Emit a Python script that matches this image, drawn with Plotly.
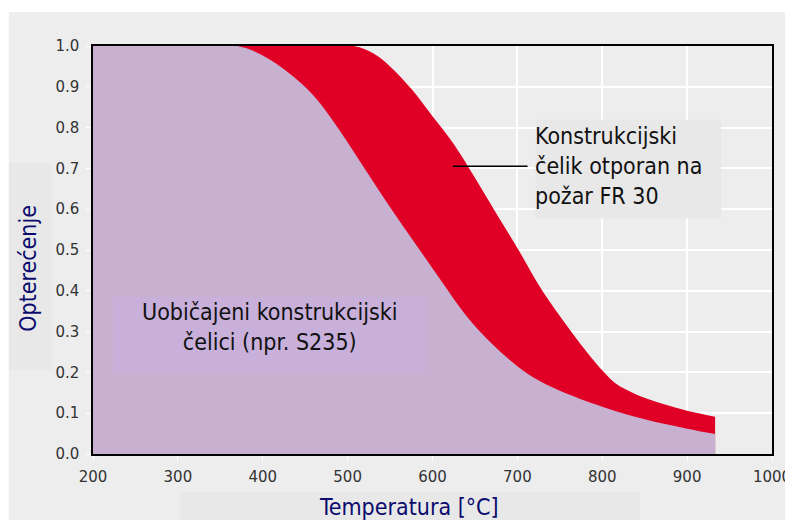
import plotly.graph_objects as go

# temperature (°C) and load ratio
temp_s235 = [200, 300, 370, 400, 430, 460, 490, 520, 550, 580, 610, 640, 670, 700, 720, 750, 800, 850, 900, 933]
load_s235 = [1.0, 1.0, 1.0, 0.977, 0.935, 0.878, 0.795, 0.70, 0.605, 0.515, 0.425, 0.338, 0.27, 0.215, 0.186, 0.155, 0.116, 0.085, 0.062, 0.049]

temp_fr30 = [200, 400, 507, 530, 550, 575, 600, 625, 650, 675, 700, 725, 750, 775, 800, 815, 840, 870, 900, 933]
load_fr30 = [1.0, 1.0, 1.0, 0.982, 0.95, 0.895, 0.828, 0.76, 0.677, 0.59, 0.505, 0.415, 0.338, 0.268, 0.205, 0.174, 0.146, 0.124, 0.106, 0.0915]

x_ticks = [200, 300, 400, 500, 600, 700, 800, 900, 1000]
y_ticks = [0.0, 0.1, 0.2, 0.3, 0.4, 0.5, 0.6, 0.7, 0.8, 0.9, 1.0]

FONT = 'DejaVu Sans Condensed, DejaVu Sans, sans-serif'
TICK_FONT = 'DejaVu Sans, sans-serif'
NAVY = '#0b0b6e'

fig = go.Figure()
fig.add_trace(go.Scatter(
    x=temp_fr30, y=load_fr30,
    mode='lines', line=dict(width=0, shape='spline', smoothing=1),
    fill='tozeroy', fillcolor='#e00025',
    hoverinfo='skip', showlegend=False
))
fig.add_trace(go.Scatter(
    x=temp_s235, y=load_s235,
    mode='lines', line=dict(width=0, shape='spline', smoothing=1),
    fill='tozeroy', fillcolor='#c8b0d0',
    hoverinfo='skip', showlegend=False
))

# grey panel behind everything, and boxes behind the axis titles
fig.add_shape(type='rect', xref='paper', yref='paper', x0=-0.124, x1=1.04, y0=-0.17, y1=1.083,
              fillcolor='#ededed', line_width=0, layer='below')
fig.add_shape(type='rect', xref='paper', yref='paper', x0=-0.124, x1=-0.061, y0=0.206, y1=0.713,
              fillcolor='#e8e8e8', line_width=0, layer='below')
fig.add_shape(type='rect', xref='paper', yref='paper', x0=0.128, x1=0.806, y0=-0.17, y1=-0.093,
              fillcolor='#e8e8e8', line_width=0, layer='below')

# label boxes and the pointer line
fig.add_shape(type='rect', x0=721.5, x1=940, y0=0.578, y1=0.819,
              fillcolor='#e8e8e8', line_width=0, layer='above')
fig.add_shape(type='rect', x0=223.6, x1=591.7, y0=0.201, y1=0.385,
              fillcolor='#c8b0da', line_width=0, layer='above')
fig.add_shape(type='line', x0=624, x1=712, y0=0.705, y1=0.705,
              line=dict(color='black', width=1.5), layer='above')

fig.add_annotation(x=718, y=0.705, xanchor='left', yanchor='middle', align='left',
                   text='Konstrukcijski<br>čelik otporan na<br>požar FR 30',
                   showarrow=False, font=dict(family=FONT, size=23, color='#111111'))
fig.add_annotation(x=408, y=0.312, xanchor='center', yanchor='middle', align='center',
                   text='Uobičajeni konstrukcijski<br>čelici (npr. S235)',
                   showarrow=False, font=dict(family=FONT, size=23, color='#111111'))

# axis titles
fig.add_annotation(xref='paper', yref='paper', x=-0.096, y=0.456, textangle=-90,
                   xanchor='center', yanchor='middle',
                   text='Opterećenje', showarrow=False,
                   font=dict(family=FONT, size=23, color=NAVY))
fig.add_annotation(xref='paper', yref='paper', x=0.465, y=-0.13,
                   xanchor='center', yanchor='middle',
                   text='Temperatura [°C]', showarrow=False,
                   font=dict(family=FONT, size=23, color=NAVY))

# the page body adds an 8px offset, so the figure is 8px smaller
fig.update_layout(
    width=785, height=512,
    margin=dict(l=85, r=21, t=38, b=66),
    paper_bgcolor='white',
    plot_bgcolor='#ededed',
    font=dict(family=TICK_FONT, size=15, color='#333333'),
    xaxis=dict(
        range=[200, 1000], tickvals=x_ticks, ticktext=[str(v) for v in x_ticks],
        showgrid=True, gridcolor='white', gridwidth=1.5,
        ticks='outside', ticklen=5, tickcolor='white',
        showline=True, linecolor='black', linewidth=1.5, mirror=True,
        zeroline=False, ticklabelstandoff=3, automargin=False,
    ),
    yaxis=dict(
        range=[0, 1], tickvals=y_ticks, ticktext=[f'{v:.1f}' for v in y_ticks],
        showgrid=True, gridcolor='white', gridwidth=1.5,
        ticks='outside', ticklen=5, tickcolor='white',
        showline=True, linecolor='black', linewidth=1.5, mirror=True,
        zeroline=False, ticklabelstandoff=4, automargin=False,
    ),
)

fig.write_html("out.html")
